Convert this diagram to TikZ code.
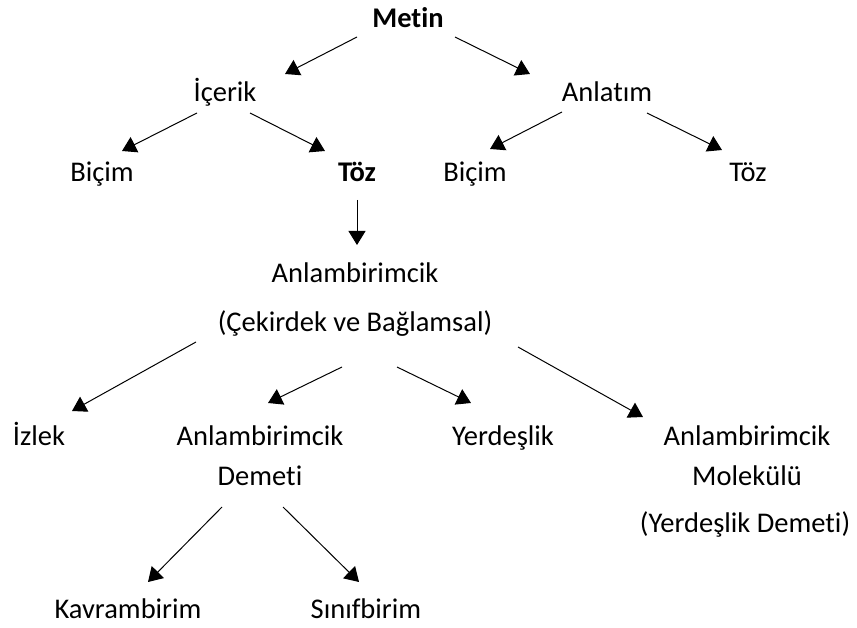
\documentclass[tikz,border=0pt]{standalone}
\usepackage{fontspec}
\setmainfont{Carlito}[Ligatures=NoCommon]
\usetikzlibrary{arrows.meta}

\tikzset{
    term/.style={inner sep=0pt, anchor=base, font=\fontsize{28.5}{34}\selectfont},
    branch/.style={-{Triangle[width=17pt, length=14pt]}, line width=1pt}
}

\begin{document}
\begin{tikzpicture}[x=1pt, y={(0pt,-1pt)}]

    \useasboundingbox (0,0) rectangle (857,628);

    % first levels
    \node[term] (metin)   at (408,28)  {\textbf{Metin}};
    \node[term] (icerik)  at (225,102) {İçerik};
    \node[term] (anlatim) at (607,102) {Anlatım};
    \node[term] (bicim_1) at (102,182) {Biçim};
    \node[term] (toz_1)   at (357,182) {\textbf{Töz}};
    \node[term] (bicim_2) at (475,182) {Biçim};
    \node[term] (toz_2)   at (748,182) {Töz};

    % anlambirimcik
    \node[term] (anlam)    at (355,283) {Anlambirimcik};
    \node[term] (cekirdek) at (355,332) {(Çekirdek ve Bağlamsal)};

    % lower levels
    \node[term] (izlek)     at (39,445)  {İzlek};
    \node[term] (demet_a)   at (260,445) {Anlambirimcik};
    \node[term] (demet_b)   at (260,485) {Demeti};
    \node[term] (yerdeslik) at (503,445) {Yerdeşlik};
    \node[term] (molekul_a) at (747,445) {Anlambirimcik};
    \node[term] (molekul_b) at (747,485) {Molekülü};
    \node[term] (yerdemet)  at (745,532) {(Yerdeşlik Demeti)};

    \node[term] (kavram) at (128,618) {Kavrambirim};
    \node[term] (sinif)  at (366,618) {Sınıfbirim};


    % arrow ends
    \coordinate (metin_l)   at (357,37);
    \coordinate (metin_r)   at (455,37);
    \coordinate (icerik_t)  at (285,74);
    \coordinate (anlatim_t) at (530,74);

    \coordinate (icerik_l)  at (197,113);
    \coordinate (icerik_r)  at (250,113);
    \coordinate (bicim_1_t) at (122,151);
    \coordinate (toz_1_t)   at (325,151);

    \coordinate (anlatim_l) at (562,112);
    \coordinate (anlatim_r) at (647,113);
    \coordinate (bicim_2_t) at (490,149);
    \coordinate (toz_2_t)   at (722,150);

    \coordinate (toz_1_b)  at (357,200);
    \coordinate (anlam_t)  at (357,245);

    \coordinate (cek_1)       at (196,342);
    \coordinate (cek_2)       at (342,367);
    \coordinate (cek_3)       at (397,367);
    \coordinate (cek_4)       at (518,347);
    \coordinate (izlek_t)     at (72,411);
    \coordinate (demet_t)     at (268,403);
    \coordinate (yerdeslik_t) at (471,403);
    \coordinate (molekul_t)   at (643,417);

    \coordinate (demet_l)  at (222,507);
    \coordinate (demet_r)  at (283,507);
    \coordinate (kavram_t) at (148,582);
    \coordinate (sinif_t)  at (359,582);


    % arrows
    \draw[branch] (metin_l) -- (icerik_t);
    \draw[branch] (metin_r) -- (anlatim_t);

    \draw[branch] (icerik_l) -- (bicim_1_t);
    \draw[branch] (icerik_r) -- (toz_1_t);
    \draw[branch] (anlatim_l) -- (bicim_2_t);
    \draw[branch] (anlatim_r) -- (toz_2_t);

    \draw[branch] (toz_1_b) -- (anlam_t);

    \draw[branch] (cek_1) -- (izlek_t);
    \draw[branch] (cek_2) -- (demet_t);
    \draw[branch] (cek_3) -- (yerdeslik_t);
    \draw[branch] (cek_4) -- (molekul_t);

    \draw[branch] (demet_l) -- (kavram_t);
    \draw[branch] (demet_r) -- (sinif_t);

\end{tikzpicture}
\end{document}
